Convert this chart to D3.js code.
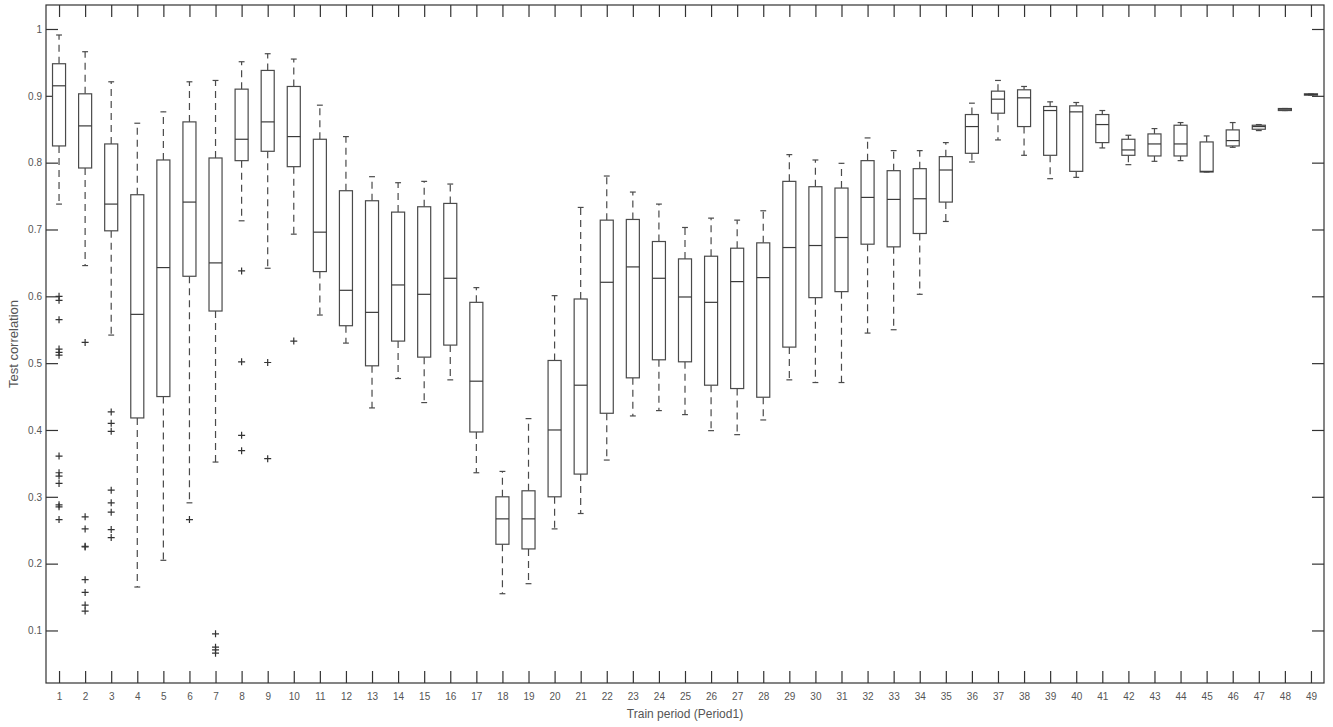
<!DOCTYPE html>
<html>
<head>
<meta charset="utf-8">
<script src="https://cdn.jsdelivr.net/npm/d3@7"></script>
<style>
  html, body { margin: 0; padding: 0; background: #fff; }
  svg { display: block; font-family: "Liberation Sans", Arial, sans-serif; }
</style>
</head>
<body>
<svg id="chart" width="1333" height="727"></svg>
<script>
// ---- data ----
const categories = [1,2,3,4,5,6,7,8,9,10,11,12,13,14,15,16,17,18,19,20,21,22,23,24,25,26,27,28,29,30,31,32,33,34,35,36,37,38,39,40,41,42,43,44,45,46,47,48,49];
const upperWhisker = [0.991,0.966,0.921,0.859,0.876,0.921,0.923,0.951,0.963,0.955,0.886,0.839,0.779,0.770,0.772,0.768,0.613,0.338,0.417,0.601,0.733,0.780,0.756,0.738,0.703,0.717,0.714,0.728,0.812,0.804,0.799,0.837,0.818,0.818,0.830,0.889,0.923,0.914,0.891,0.890,0.878,0.841,0.851,0.860,0.840,0.860,0.857,0.881,0.903];
const q3 = [0.948,0.903,0.828,0.752,0.804,0.861,0.807,0.910,0.938,0.914,0.835,0.758,0.743,0.726,0.734,0.739,0.591,0.300,0.309,0.504,0.596,0.714,0.715,0.682,0.656,0.660,0.672,0.680,0.772,0.764,0.762,0.803,0.788,0.791,0.809,0.872,0.907,0.909,0.884,0.885,0.872,0.835,0.843,0.856,0.831,0.849,0.856,0.881,0.903];
const medians = [0.915,0.855,0.738,0.573,0.643,0.741,0.650,0.835,0.861,0.839,0.696,0.609,0.576,0.617,0.603,0.627,0.473,0.267,0.267,0.400,0.467,0.621,0.644,0.627,0.599,0.591,0.622,0.628,0.673,0.676,0.688,0.748,0.745,0.746,0.789,0.854,0.895,0.897,0.878,0.876,0.857,0.819,0.828,0.828,0.787,0.833,0.854,0.880,0.902];
const q1 = [0.825,0.792,0.698,0.418,0.450,0.630,0.578,0.803,0.817,0.794,0.637,0.556,0.496,0.533,0.509,0.527,0.397,0.229,0.222,0.300,0.334,0.425,0.478,0.505,0.502,0.467,0.462,0.449,0.524,0.598,0.607,0.678,0.674,0.694,0.741,0.814,0.874,0.854,0.811,0.787,0.830,0.811,0.810,0.810,0.786,0.825,0.850,0.878,0.901];
const lowerWhisker = [0.738,0.646,0.542,0.165,0.205,0.291,0.352,0.713,0.642,0.693,0.572,0.530,0.433,0.477,0.441,0.475,0.336,0.155,0.170,0.252,0.275,0.355,0.421,0.429,0.423,0.399,0.393,0.415,0.475,0.471,0.471,0.545,0.550,0.603,0.712,0.801,0.834,0.811,0.776,0.778,0.822,0.797,0.802,0.803,0.786,0.823,0.848,0.878,0.901];
const outliers = [
  [0.600,0.594,0.565,0.521,0.516,0.512,0.361,0.336,0.331,0.320,0.288,0.285,0.266],
  [0.531,0.270,0.252,0.226,0.225,0.176,0.157,0.138,0.129],
  [0.427,0.410,0.398,0.310,0.291,0.277,0.251,0.239],
  [], [], [0.266], [0.095,0.075,0.071,0.066],
  [0.638,0.502,0.392,0.369], [0.501,0.357], [0.533]
];
const yTickValues = [0.1,0.2,0.3,0.4,0.5,0.6,0.7,0.8,0.9,1];
const yTickLabels = ["0.1","0.2","0.3","0.4","0.5","0.6","0.7","0.8","0.9","1"];
const xTitle = "Train period (Period1)";
const yTitle = "Test correlation";

// ---- layout ----
const svg = d3.select("#chart");
const padL = 46, padR = 1324, padT = 5, padB = 683;
const x = d3.scaleLinear().domain([0.5, 49.5]).range([padL, padR]);
const y = d3.scaleLinear().domain([0.0214, 1.0359]).range([padB, padT]);
const boxW = (x(2) - x(1)) * 0.5;
const capW = boxW * 0.45;
const lineColor = "#4a4a4a";

// frame
svg.append("rect").attr("x", padL).attr("y", padT).attr("width", padR - padL).attr("height", padB - padT)
  .attr("fill", "none").attr("stroke", "#333").attr("stroke-width", 1.2);

// axes
const styleAxis = g => {
  g.select(".domain").remove();
  g.selectAll(".tick line").attr("stroke", "#333").attr("stroke-width", 1.2);
  g.selectAll(".tick text").attr("fill", "#555").style("font-size", "10px");
};
svg.append("g").attr("transform", `translate(0,${padB})`)
  .call(d3.axisBottom(x).tickValues(categories).tickFormat(d => String(d)).tickSize(-12).tickSizeOuter(0).tickPadding(10))
  .call(styleAxis);
svg.append("g").attr("transform", `translate(0,${padT})`)
  .call(d3.axisTop(x).tickValues(categories).tickFormat("").tickSize(-12).tickSizeOuter(0))
  .call(styleAxis);
svg.append("g").attr("transform", `translate(${padL},0)`)
  .call(d3.axisLeft(y).tickValues(yTickValues).tickFormat((d, i) => yTickLabels[i]).tickSize(-12).tickSizeOuter(0).tickPadding(4))
  .call(styleAxis);
svg.append("g").attr("transform", `translate(${padR},0)`)
  .call(d3.axisRight(y).tickValues(yTickValues).tickFormat("").tickSize(-12).tickSizeOuter(0))
  .call(styleAxis);

// titles
svg.append("text").attr("x", (padL + padR) / 2).attr("y", 718).attr("text-anchor", "middle")
  .attr("fill", "#555").style("font-size", "12px").text(xTitle);
svg.append("text").attr("transform", `translate(18,${(padT + padB) / 2}) rotate(-90)`).attr("text-anchor", "middle")
  .attr("fill", "#555").style("font-size", "13px").text(yTitle);

// boxes
const data = categories.map((c, i) => ({
  c, uw: upperWhisker[i], q3: q3[i], med: medians[i], q1: q1[i], lw: lowerWhisker[i], out: outliers[i] || []
}));
const g = svg.append("g").attr("fill", "none").attr("stroke", lineColor).attr("stroke-width", 1.2);
const bx = g.selectAll("g.box").data(data).join("g").attr("class", "box");
// whiskers (dashed)
bx.append("line").attr("x1", d => x(d.c)).attr("x2", d => x(d.c)).attr("y1", d => y(d.q3)).attr("y2", d => y(d.uw))
  .attr("stroke-dasharray", "7,5");
bx.append("line").attr("x1", d => x(d.c)).attr("x2", d => x(d.c)).attr("y1", d => y(d.q1)).attr("y2", d => y(d.lw))
  .attr("stroke-dasharray", "7,5");
// caps
bx.append("line").attr("x1", d => x(d.c) - capW / 2).attr("x2", d => x(d.c) + capW / 2).attr("y1", d => y(d.uw)).attr("y2", d => y(d.uw));
bx.append("line").attr("x1", d => x(d.c) - capW / 2).attr("x2", d => x(d.c) + capW / 2).attr("y1", d => y(d.lw)).attr("y2", d => y(d.lw));
// box
bx.append("rect").attr("x", d => x(d.c) - boxW / 2).attr("width", boxW)
  .attr("y", d => y(d.q3)).attr("height", d => Math.max(0.5, y(d.q1) - y(d.q3))).attr("fill", "#fff");
// median
bx.append("line").attr("x1", d => x(d.c) - boxW / 2).attr("x2", d => x(d.c) + boxW / 2).attr("y1", d => y(d.med)).attr("y2", d => y(d.med))
  .attr("stroke", "#3a3a3a");
// outliers
bx.selectAll("path.out").data(d => d.out.map(v => ({ c: d.c, v }))).join("path").attr("class", "out")
  .attr("d", d => `M${x(d.c) - 3.5},${y(d.v)}H${x(d.c) + 3.5}M${x(d.c)},${y(d.v) - 3.5}V${y(d.v) + 3.5}`)
  .attr("stroke", "#333");
</script>
</body>
</html>
